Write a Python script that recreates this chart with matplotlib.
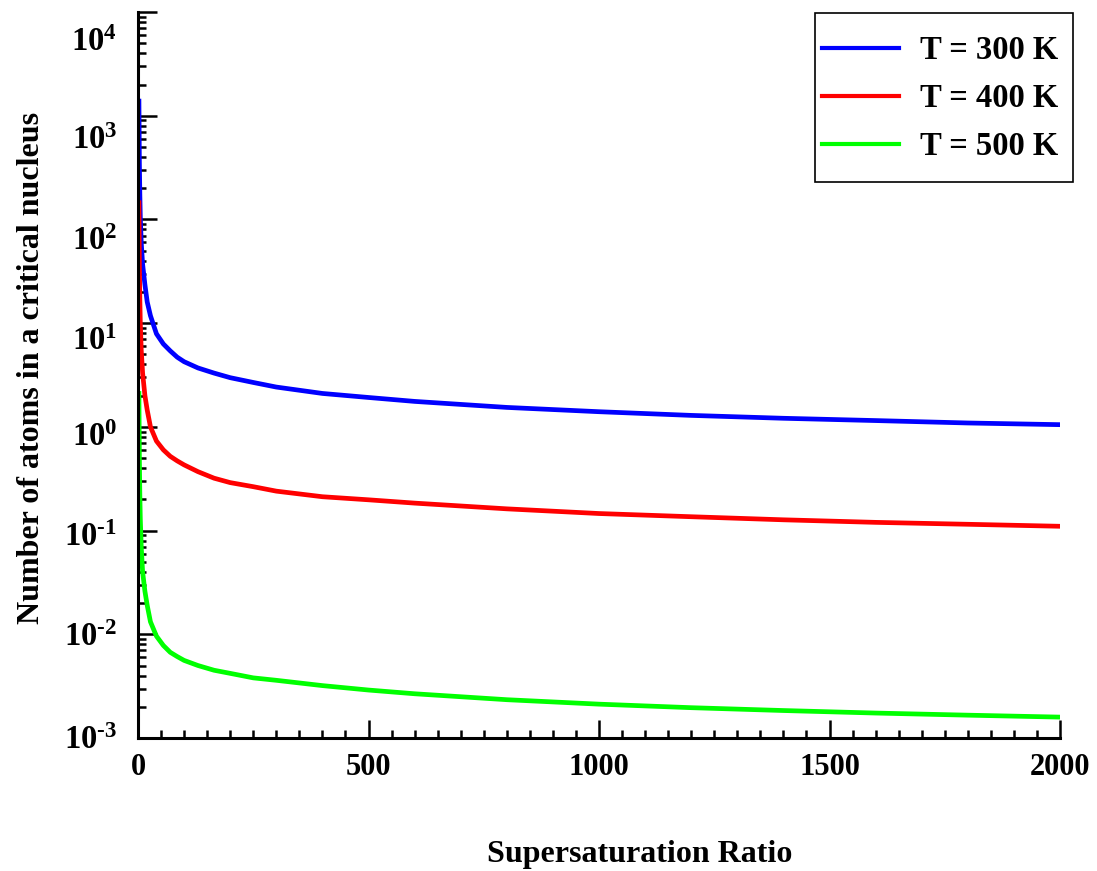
import matplotlib
matplotlib.use("Agg")
import matplotlib.pyplot as plt
from matplotlib.patches import Rectangle
from matplotlib.transforms import ScaledTranslation
from matplotlib.ticker import LogLocator, MultipleLocator, NullFormatter

plt.rcParams['font.family'] = ['Liberation Serif', 'DejaVu Serif']
plt.rcParams['font.weight'] = 'bold'
plt.rcParams['mathtext.fontset'] = 'custom'
plt.rcParams['mathtext.rm'] = 'Liberation Serif:bold'
plt.rcParams['mathtext.bf'] = 'Liberation Serif:bold'

# supersaturation ratio
ratio = [2, 3, 4, 5, 7, 10, 15, 20, 27, 40, 55, 70, 85, 100, 130, 165, 200,
         250, 300, 400, 500, 600, 800, 1000, 1200, 1400, 1600, 1800, 2000]

# number of atoms in a critical nucleus
n_300 = [1384, 348, 173, 105, 60, 37, 23.5, 16, 11.8, 7.9, 6.3, 5.4, 4.7,
         4.25, 3.7, 3.3, 2.98, 2.68, 2.42, 2.1, 1.92, 1.76, 1.54, 1.40, 1.29,
         1.21, 1.15, 1.09, 1.05]
n_400 = [145, 36, 17, 10, 5.5, 3.3, 2.0, 1.45, 1.0, 0.73, 0.6, 0.52, 0.47,
         0.43, 0.37, 0.32, 0.29, 0.265, 0.24, 0.212, 0.198, 0.184, 0.162,
         0.146, 0.136, 0.127, 0.120, 0.115, 0.110]
n_500 = [2.1, 0.5, 0.22, 0.13, 0.07, 0.04, 0.026, 0.019, 0.0132, 0.0096,
         0.0078, 0.0067, 0.0061, 0.0056, 0.0050, 0.0045, 0.0042, 0.0038,
         0.0036, 0.0032, 0.0029, 0.00267, 0.00234, 0.00212, 0.00196, 0.00184,
         0.00174, 0.00166, 0.00159]

labels = ["T = 300 K", "T = 400 K", "T = 500 K"]
colors = ["#0000ff", "#ff0000", "#00ff00"]

decades = list(range(-3, 5))
# the original tick labels sit a little below their ticks (pixels, per decade)
label_drop = [-1, 0, 3, 7, 15, 19, 21, 27]

fig = plt.figure(figsize=(10.97, 8.71), dpi=100)
ax = fig.add_axes([0.1258, 0.1527, 0.8405, 0.8335])

for y, lab, c in zip([n_300, n_400, n_500], labels, colors):
    ax.plot(ratio, y, color=c, lw=3.4, label=lab)

ax.set_yscale('log')
ax.set_xlim(0, 2000)
ax.set_ylim(1e-3, 1e4)

ax.xaxis.set_major_locator(MultipleLocator(500))
ax.xaxis.set_minor_locator(MultipleLocator(50))
ax.yaxis.set_minor_locator(LogLocator(base=10, subs=range(2, 10), numticks=20))
ax.yaxis.set_minor_formatter(NullFormatter())
ax.set_yticks([10.0 ** k for k in decades])
ax.set_yticklabels([r'$\mathbf{10^{\text{-}%d}}$' % -k if k < 0 else r'$\mathbf{10^{%d}}$' % k
                    for k in decades])

ax.tick_params(which='both', direction='in', width=1.8, colors='black')
ax.tick_params(axis='y', which='major', length=14, pad=15, labelsize=23.5)
ax.tick_params(axis='y', which='minor', length=5.8)
ax.tick_params(axis='x', which='major', length=13, pad=11, labelsize=22)
ax.tick_params(axis='x', which='minor', length=5.8)

for s in ['top', 'right']:
    ax.spines[s].set_visible(False)
for s in ['left', 'bottom']:
    ax.spines[s].set_linewidth(2.2)

ax.set_xlabel("Supersaturation Ratio", fontsize=23, fontweight='bold')
ax.xaxis.set_label_coords(0.544, -0.140)
ax.set_ylabel("Number of atoms in a critical nucleus", fontsize=23,
              fontweight='bold')
ax.yaxis.set_label_coords(-0.100, 0.51)

# legend: lines start inside a plain black box at the top right
leg = ax.legend(loc='upper left', bbox_to_anchor=(822 / 1097, 1 - 35 / 871),
                bbox_transform=fig.transFigure, borderaxespad=0, borderpad=0,
                fontsize=23.5, frameon=False, handlelength=2.35,
                labelspacing=0.52, handletextpad=0.65)
for h in leg.get_lines():
    h.set_linewidth(3)
fig.patches.append(Rectangle((815 / 1097, 1 - 182 / 871), 258 / 1097, 169 / 871,
                             transform=fig.transFigure, fill=False,
                             edgecolor='black', lw=1.2))

for tick, drop in zip(ax.yaxis.get_major_ticks(), label_drop):
    lbl = tick.label1
    lbl.set_transform(lbl.get_transform() +
                      ScaledTranslation(0, -drop / 100, fig.dpi_scale_trans))

fig.savefig("out.png", dpi=100)
